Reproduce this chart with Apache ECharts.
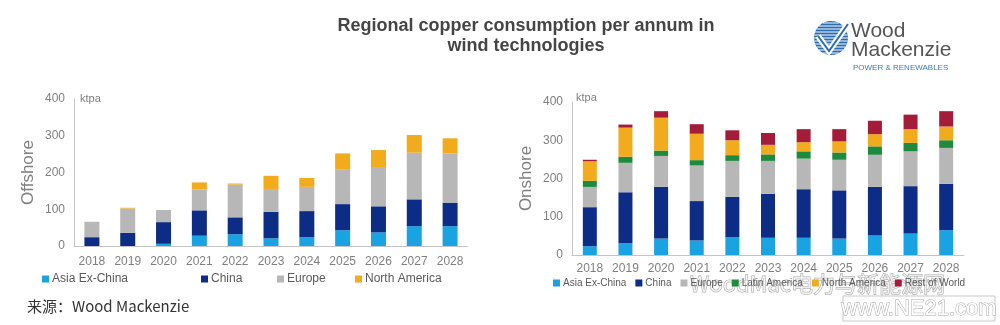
<!DOCTYPE html>
<html><head><meta charset="utf-8">
<script src="https://cdn.jsdelivr.net/npm/echarts@6/dist/echarts.min.js"></script>
<style>html,body{margin:0;padding:0;background:#fff}#c{width:1000px;height:325px}</style>
</head><body><div id="c"></div>
<script>
const years = ['2018','2019','2020','2021','2022','2023','2024','2025','2026','2027','2028'];
const yTicks = [0, 100, 200, 300, 400];
// Offshore (ktpa)
const offAsia   = [0, 0, 6, 28, 32, 21, 24, 43, 37, 54, 54];
const offChina  = [24, 36, 59, 69, 46, 72, 71, 71, 71, 73, 64];
const offEurope = [42, 66, 33, 57, 89, 62, 66, 95, 107, 127, 134];
const offNA     = [0, 2, 0, 19, 3, 36, 24, 43, 46, 48, 41];
// Onshore (ktpa)
const onAsia   = [23, 31, 43, 38, 47, 45, 45, 43, 51, 56, 65];
const onChina  = [102, 133, 135, 103, 105, 115, 127, 126, 127, 124, 121];
const onEurope = [53, 77, 81, 93, 94, 86, 80, 80, 84, 91, 94];
const onLatAm  = [16, 16, 14, 14, 15, 17, 19, 19, 22, 22, 20];
const onNA     = [51, 76, 86, 69, 39, 25, 24, 29, 32, 36, 36];
const onRoW    = [4, 8, 17, 25, 26, 31, 34, 32, 35, 38, 40];

const C = {
  'Asia Ex-China': '#1aa3e3',
  'China': '#0d2c85',
  'Europe': '#b7b7b7',
  'Latin America': '#1d8a3d',
  'North America': '#f1ab1d',
  'Rest of World': '#a51c3b'
};
const axisCol = '#c4c4c4', lblCol = '#7f7f7f';
const font = 'Liberation Sans, Arial, sans-serif';

function bar(name, data, gi, stack, w) {
  return { name, type: 'bar', stack, xAxisIndex: gi, yAxisIndex: gi, data,
    barWidth: w, itemStyle: { color: C[name] }, silent: true };
}
function yAx(gi, nm, gap) {
  return { type: 'value', gridIndex: gi, min: yTicks[0], max: yTicks[yTicks.length-1], interval: 100,
    axisLine: { show: true, lineStyle: { color: axisCol, width: 1 } }, axisTick: { show: false },
    splitLine: { show: false },
    axisLabel: { color: lblCol, fontSize: 12, fontFamily: font, margin: 9 },
    name: nm, nameLocation: 'middle', nameGap: gap, nameRotate: 90,
    nameTextStyle: { color: lblCol, fontSize: 17, fontFamily: font } };
}
function xAx(gi, margin) {
  return { type: 'category', gridIndex: gi, data: years,
    axisLine: { lineStyle: { color: axisCol, width: 1 } }, axisTick: { show: false },
    axisLabel: { color: lblCol, fontSize: 12, fontFamily: font, margin, interval: 0 } };
}
function leg(names, left, top, gap, fs) {
  return { data: names, left, top, icon: 'rect', itemWidth: 7, itemHeight: 7, itemGap: gap,
    selectedMode: false, textStyle: { color: '#5a5a5a', fontSize: fs, fontFamily: font, padding: [0,0,0,-2] } };
}

// logo stripes (decoration)
const logoCx = 831, logoCy = 38, logoR = 17;
const stripes = [];
for (let dy = -15; dy <= 15; dy += 3) {
  const h = Math.sqrt(logoR*logoR - dy*dy);
  stripes.push({ type: 'line', shape: { x1: logoCx - h, y1: logoCy + dy, x2: logoCx + h, y2: logoCy + dy },
    style: { stroke: '#ffffff', lineWidth: 1 } });
}

const chart = echarts.init(document.getElementById('c'), null, { renderer: 'canvas' });
chart.setOption({
  animation: false,
  backgroundColor: '#ffffff',
  grid: [
    { left: 74, right: 532, top: 99, bottom: 79 },
    { left: 572, right: 36, top: 102, bottom: 70 }
  ],
  xAxis: [xAx(0, 10), xAx(1, 8)],
  yAxis: [yAx(0, 'Offshore', 37), yAx(1, 'Onshore', 37)],
  legend: [
    leg(['Asia Ex-China'], 37, 268, 10, 12),
    leg(['China'], 196, 268, 10, 12),
    leg(['Europe'], 272, 268, 10, 12),
    leg(['North America'], 350, 268, 10, 12),
    leg(['Asia Ex-China', 'China', 'Europe', 'Latin America', 'North America', 'Rest of World'], 548, 273, 9, 10)
  ],
  series: [
    bar('Asia Ex-China', offAsia, 0, 'off', 15),
    bar('China', offChina, 0, 'off', 15),
    bar('Europe', offEurope, 0, 'off', 15),
    bar('North America', offNA, 0, 'off', 15),
    bar('Asia Ex-China', onAsia, 1, 'on', 14),
    bar('China', onChina, 1, 'on', 14),
    bar('Europe', onEurope, 1, 'on', 14),
    bar('Latin America', onLatAm, 1, 'on', 14),
    bar('North America', onNA, 1, 'on', 14),
    bar('Rest of World', onRoW, 1, 'on', 14)
  ],
  graphic: [
    { type: 'text', x: 526, y: 26, style: { text: 'Regional copper consumption per annum in', fill: '#454545',
      font: 'bold 18px ' + font, align: 'center', verticalAlign: 'middle' } },
    { type: 'text', x: 526, y: 46, style: { text: 'wind technologies', fill: '#454545',
      font: 'bold 18px ' + font, align: 'center', verticalAlign: 'middle' } },
    { type: 'text', x: 80, y: 99, style: { text: 'ktpa', fill: lblCol, font: '11px ' + font, verticalAlign: 'middle' } },
    { type: 'text', x: 576, y: 98, style: { text: 'ktpa', fill: lblCol, font: '11px ' + font, verticalAlign: 'middle' } },
    { type: 'text', x: 27, y: 306, style: { text: '来源：Wood Mackenzie', fill: '#333333',
      font: '15px "Noto Sans CJK SC", ' + font, verticalAlign: 'middle' } },
    // logo
    { type: 'circle', shape: { cx: logoCx, cy: logoCy, r: logoR }, style: { fill: '#2a6db5' } },
    ...stripes,
    { type: 'polyline', shape: { points: [[818, 36], [829, 51], [848, 24]] },
      style: { stroke: '#ffffff', lineWidth: 6, fill: null, lineJoin: 'miter' } },
    { type: 'polyline', shape: { points: [[818, 36], [829, 51], [848, 24]] },
      style: { stroke: '#2a6db5', lineWidth: 2, fill: null } },
    { type: 'text', x: 851, y: 31, style: { text: 'Wood', fill: '#555555', font: '21px ' + font, verticalAlign: 'middle' } },
    { type: 'text', x: 851, y: 50, style: { text: 'Mackenzie', fill: '#555555', font: '21px ' + font, verticalAlign: 'middle' } },
    { type: 'text', x: 853, y: 68, style: { text: 'POWER & RENEWABLES', fill: '#3b7cc0', font: '8px ' + font, verticalAlign: 'middle' } },
    // watermark
    { type: 'text', x: 690, y: 284, style: { text: 'WoodMac电力与新能源网', fill: 'rgba(255,255,255,0.6)',
      stroke: 'rgba(150,150,150,0.8)', lineWidth: 1, font: '22px "Noto Sans CJK SC", ' + font, verticalAlign: 'middle' } },
    { type: 'rect', shape: { x: 843, y: 296, width: 152, height: 25 }, style: { fill: null, stroke: '#c8c8c8', lineWidth: 1 } },
    { type: 'text', x: 919, y: 309, style: { text: 'www.NE21.com', fill: '#ffffff', stroke: '#a8a8a8', lineWidth: 1,
      font: '22px ' + font, align: 'center', verticalAlign: 'middle' } }
  ]
});
</script></body></html>
